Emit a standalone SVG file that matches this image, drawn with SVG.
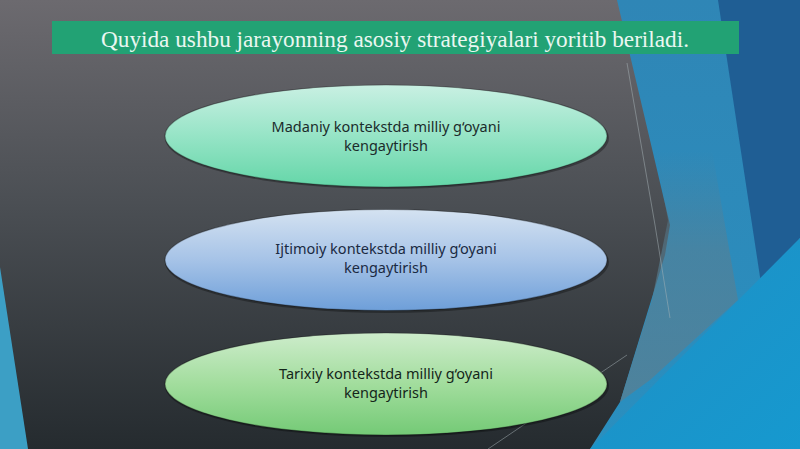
<svg xmlns="http://www.w3.org/2000/svg" width="800" height="449" viewBox="0 0 800 449">
  <defs>
    <linearGradient id="bg" x1="0" y1="0" x2="0" y2="1">
      <stop offset="0" stop-color="#6c6a6f"/>
      <stop offset="0.45" stop-color="#4b4f54"/>
      <stop offset="1" stop-color="#252b2f"/>
    </linearGradient>
    <linearGradient id="g1" x1="0" y1="0" x2="0" y2="1">
      <stop offset="0" stop-color="#c9f0e3"/>
      <stop offset="0.5" stop-color="#96e4c6"/>
      <stop offset="1" stop-color="#64d6a8"/>
    </linearGradient>
    <linearGradient id="g2" x1="0" y1="0" x2="0" y2="1">
      <stop offset="0" stop-color="#d4e2f1"/>
      <stop offset="0.5" stop-color="#a6c3e7"/>
      <stop offset="1" stop-color="#6e9fd9"/>
    </linearGradient>
    <linearGradient id="g3" x1="0" y1="0" x2="0" y2="1">
      <stop offset="0" stop-color="#cdeccb"/>
      <stop offset="0.5" stop-color="#a2dd9d"/>
      <stop offset="1" stop-color="#74ca76"/>
    </linearGradient>
    <linearGradient id="cyan" x1="0" y1="0" x2="1" y2="1">
      <stop offset="0" stop-color="#1f8fc4"/>
      <stop offset="1" stop-color="#1699cf"/>
    </linearGradient>
    <linearGradient id="mid" x1="0" y1="0" x2="0" y2="1">
      <stop offset="0" stop-color="#2f86b6"/>
      <stop offset="1" stop-color="#2a8fbf"/>
    </linearGradient>
    <linearGradient id="grayblue" x1="0" y1="0" x2="0" y2="1">
      <stop offset="0" stop-color="#577f93" stop-opacity="0"/>
      <stop offset="0.4" stop-color="#577f93" stop-opacity="0.6"/>
      <stop offset="1" stop-color="#577f93" stop-opacity="0.8"/>
    </linearGradient>
  </defs>
  <style>
    .node-text { font-family: "Noto Sans", "Open Sans", sans-serif; font-size: 14.5px; text-anchor: middle; }
    .title { font-family: "Liberation Serif", serif; font-size: 23px; fill: #eaf7f1; text-anchor: middle; }
    .shadow { fill: #000; opacity: 0.3; }
    .edge { stroke: rgba(0,0,0,0.3); stroke-width: 1.2; }
    .thin { stroke: #a8b4b8; stroke-width: 1; fill: none; opacity: 0.5; }
  </style>

  <!-- background -->
  <rect width="800" height="449" fill="url(#bg)"/>
  <polygon points="0,267 28,449 0,449" fill="#3c9fc5"/>
  <polygon points="617,0 800,0 800,449 590,449 620,402 665,255 670,225" fill="url(#mid)"/>
  <polygon points="655,150 712,150 738,300 650,380 620,402 652,300 668,220" fill="url(#grayblue)"/>
  <polygon points="718,0 800,0 800,238 762,290" fill="#1f5e94"/>
  <polygon points="590,449 800,238 800,449" fill="url(#cyan)"/>
  <polyline class="thin" points="627,63 655,225 670,318"/>
  <line class="thin" x1="627" y1="355" x2="488" y2="449"/>

  <!-- title -->
  <g id="title">
    <rect x="52" y="21" width="687" height="33" fill="#22a274"/>
    <text class="title" x="395" y="47" textLength="588" lengthAdjust="spacingAndGlyphs">Quyida ushbu jarayonning asosiy strategiyalari yoritib beriladi.</text>
  </g>

  <g id="connectors"/>

  <g id="node-madaniy">
    <ellipse class="shadow" cx="387" cy="138" rx="222" ry="51"/>
    <ellipse class="edge" cx="386" cy="136" rx="221" ry="51" fill="url(#g1)"/>
    <text class="node-text" fill="#1b2c2b"><tspan x="386" y="132">Madaniy kontekstda milliy g‘oyani</tspan><tspan x="386" y="151">kengaytirish</tspan></text>
  </g>

  <g id="node-ijtimoiy">
    <ellipse class="shadow" cx="387" cy="262" rx="222" ry="51"/>
    <ellipse class="edge" cx="386" cy="260" rx="221" ry="50.5" fill="url(#g2)"/>
    <text class="node-text" fill="#1a2a42"><tspan x="386" y="254">Ijtimoiy kontekstda milliy g‘oyani</tspan><tspan x="386" y="273">kengaytirish</tspan></text>
  </g>

  <g id="node-tarixiy">
    <ellipse class="shadow" cx="387" cy="386" rx="222" ry="51"/>
    <ellipse class="edge" cx="386" cy="384" rx="221" ry="51" fill="url(#g3)"/>
    <text class="node-text" fill="#14261a"><tspan x="386" y="379">Tarixiy kontekstda milliy g‘oyani</tspan><tspan x="386" y="398">kengaytirish</tspan></text>
  </g>
</svg>
